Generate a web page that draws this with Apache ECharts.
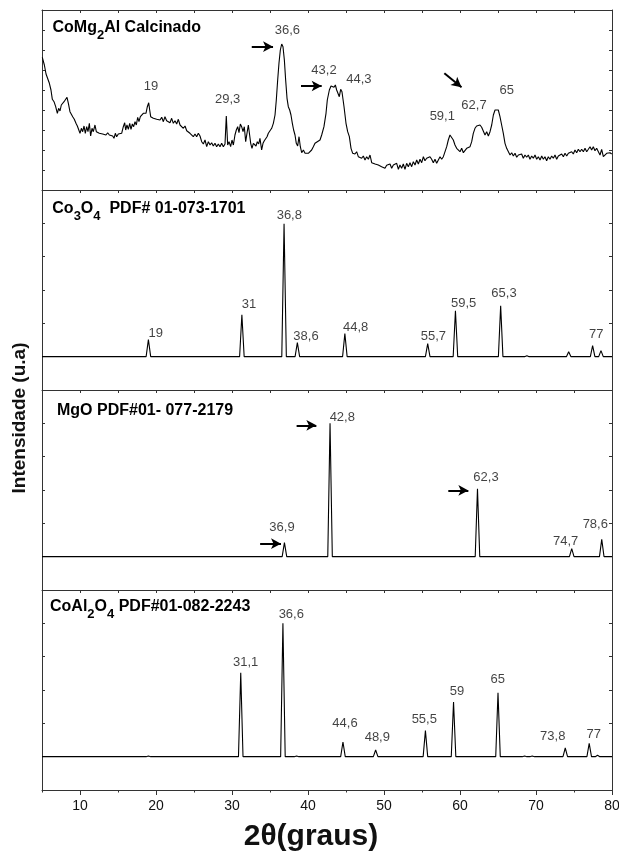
<!DOCTYPE html>
<html><head><meta charset="utf-8">
<script src="https://cdn.jsdelivr.net/npm/echarts@6/dist/echarts.min.js"></script>
<style>html,body{margin:0;padding:0;background:#fff}#c{width:619px;height:855px}</style>
</head><body><div id="c"></div><script>
// ---- Panel 1: CoMg2Al calcinado (2theta, intensity a.u.) ----
const calcinado = [
[5.04,132.7],[5.31,125],[5.53,116],[5.75,114],[5.97,106.7],[6.18,100],[6.36,90.7],[6.58,88.3],[6.8,83.3],[7.02,76.7],
[7.19,81.7],[7.37,79],[7.54,85],[7.72,83.3],[7.9,88.3],[8.11,90],[8.29,92.7],[8.47,86.7],[8.68,78.3],[8.86,80],
[9.04,73.3],[9.25,70.7],[9.47,66.7],[9.65,64],[9.82,66],[10.0,56.7],[10.18,61.7],[10.35,58.3],[10.53,64],[10.7,56.7],
[10.88,63.3],[11.05,58.3],[11.23,66.7],[11.4,54],[11.58,61.7],[11.75,58.3],[11.97,65],[12.15,58.3],[12.32,59.3],[12.54,56.7],
[12.76,58.3],[12.98,56],[13.2,57.3],[13.42,55],[13.64,57.3],[13.86,55],[14.08,56.7],[14.3,54],[14.47,51.7],[14.65,56.7],
[14.82,53.3],[15.04,56],[15.26,55],[15.48,56.7],[15.7,63.3],[15.88,67.3],[16.01,60],[16.18,65],[16.36,60.7],[16.54,66.7],
[16.71,60.7],[16.89,66],[17.06,63.3],[17.24,68.3],[17.41,65],[17.59,72.7],[17.76,68.3],[17.94,73.3],[18.11,75],[18.33,76.7],
[18.51,78.3],[18.68,76.7],[18.86,83.3],[19.04,87.3],[19.17,80],[19.3,73.3],[19.47,75],[19.65,71.7],[19.87,73.3],[20.09,70.7],
[20.31,72.7],[20.53,70],[20.75,72.7],[20.97,68.3],[21.18,73.3],[21.4,69.3],[21.62,70.7],[21.84,67.3],[22.06,71.7],[22.28,66.7],
[22.5,69.3],[22.72,66],[22.94,70.7],[23.16,65],[23.38,66.7],[23.6,61.7],[23.82,64],[24.04,59.3],[24.25,60.7],[24.47,56.7],
[24.69,58.3],[24.91,53.3],[25.13,56],[25.35,53.3],[25.57,56.7],[25.79,54],[26.01,48.3],[26.23,46],[26.45,50],[26.67,43.3],
[26.89,48.3],[27.11,45],[27.32,47.3],[27.54,44],[27.76,46.7],[27.98,43.3],[28.2,46],[28.42,43.3],[28.64,46.7],[28.86,43.3],
[29.08,46],[29.25,74],[29.43,45],[29.61,48.3],[29.82,43.3],[30.0,50],[30.18,45],[30.39,55],[30.57,60],[30.75,63.3],
[30.92,57.3],[31.1,66],[31.27,63.3],[31.45,58.3],[31.62,63.3],[31.8,48.3],[31.97,56.7],[32.15,65],[32.32,55],[32.46,46.7],
[32.63,41.7],[32.81,46.7],[32.98,48.3],[33.16,44],[33.33,48.3],[33.51,46],[33.68,51.7],[33.9,40],[34.08,46.7],[34.25,49.3],
[34.43,48.3],[34.61,53.3],[34.78,56.7],[35.0,57.3],[35.22,61.7],[35.44,66.7],[35.66,75],[35.83,90],[36.01,110],[36.18,126.7],
[36.36,140],[36.54,146],[36.71,143.3],[36.89,130],[37.06,110],[37.24,91.7],[37.41,83.3],[37.59,80],[37.76,75],[37.94,66.7],
[38.11,60],[38.29,55],[38.46,46.7],[38.64,44],[38.82,53.3],[38.99,43.3],[39.17,37.3],[39.39,40],[39.61,36.7],[39.82,38.3],
[40.04,36.7],[40.26,37.3],[40.48,40],[40.7,43.3],[40.92,46.7],[41.14,45],[41.58,50],[41.8,55],[42.1,63.3],[42.37,76.7],
[42.54,90],[42.81,100],[43.03,104],[43.25,106],[43.42,102.7],[43.6,105],[43.77,100],[43.95,101.7],[44.12,93.3],[44.3,100.7],
[44.47,98.3],[44.74,83.3],[45.0,66.7],[45.22,58.3],[45.44,53.3],[45.66,41.7],[45.88,36.7],[46.18,36],[46.4,38.3],[46.62,33.3],
[46.84,35],[47.06,31.7],[47.28,34],[47.5,30],[47.72,33.3],[47.94,30.7],[48.16,35],[48.38,27.3],[48.6,26.7],[48.83,26],
[49.04,26.7],[49.25,25],[49.47,26],[49.69,23.3],[49.91,25.3],[50.13,21.7],[50.35,24.7],[50.57,22.7],[50.79,26],[51.01,21.7],
[51.23,25],[51.45,23.3],[51.67,26.7],[51.89,20.7],[52.1,25],[52.32,21.7],[52.54,26],[52.76,20.7],[52.98,26.7],[53.2,23.3],
[53.42,27.3],[53.64,23.3],[53.86,28.3],[54.08,25],[54.3,30],[54.52,26],[54.74,30.7],[54.96,27.3],[55.18,33.3],[55.39,29.3],
[55.61,31.7],[55.83,30],[56.05,33.3],[56.27,30.7],[56.49,27.3],[56.71,30.7],[56.93,26.7],[57.15,30],[57.37,33.3],[57.59,30.7],
[57.81,33.3],[58.03,38.3],[58.25,43.3],[58.46,50],[58.68,55],[58.9,53.3],[59.12,50],[59.34,45],[59.56,41.7],[59.78,43.3],
[60.0,38.3],[60.22,41.7],[60.44,37.3],[60.66,39.3],[60.88,41.7],[61.1,40.7],[61.32,43.3],[61.54,48.3],[61.75,56.7],[61.97,61.7],
[62.19,64],[62.41,66],[62.63,65],[62.85,62.7],[63.07,61.7],[63.29,55],[63.51,58.3],[63.73,54],[63.95,58.3],[64.17,65],
[64.39,75],[64.61,80],[64.82,81.7],[65.04,80],[65.26,73.3],[65.48,65],[65.7,56.7],[65.92,46.7],[66.14,41.7],[66.36,40],
[66.58,35],[66.8,37.3],[67.02,34],[67.24,36.7],[67.46,32.7],[67.68,35],[67.89,33.3],[68.11,36],[68.33,31.7],[68.55,35],
[68.77,32.7],[68.99,35],[69.21,30.7],[69.43,34],[69.65,31.7],[69.87,35],[70.09,30.7],[70.31,33.3],[70.53,30],[70.75,34],
[70.97,30.7],[71.18,33.3],[71.4,29.3],[71.62,33.3],[71.84,30.7],[72.06,34],[72.28,31.7],[72.5,35],[72.72,30.7],[72.94,34],
[73.16,32.7],[73.38,36],[73.6,33.3],[73.82,36.7],[74.04,34],[74.26,36.7],[74.47,35],[74.69,38.3],[74.91,36],[75.13,40],
[75.35,37.3],[75.57,40.7],[75.79,38.3],[76.01,40.7],[76.23,38.3],[76.45,41.7],[76.67,38.3],[76.89,40.7],[77.11,43.3],[77.32,40],
[77.54,43.3],[77.76,39.3],[77.98,41.7],[78.2,43.3],[78.42,35],[78.64,40.7],[78.86,33.3],[79.08,31.7],[79.3,36.7],[79.52,35],
[79.74,37.3],[79.96,36]
];
const calcLabels = [[19.34,103.3,'19'],[29.43,91,'29,3'],[37.28,160,'36,6'],[42.1,120,'43,2'],[46.7,111,'44,3'],[57.67,73.3,'59,1'],[61.84,85,'62,7'],[66.14,99.3,'65']];
const calcArrows = [[[32.6,143.3],[35.4,143.3]],[[39.08,104],[41.8,104]],[[57.94,116.7],[60.2,102.7]]];

// ---- Panel 2: Co3O4 PDF# 01-073-1701 ----
const co3o4Pos = [19.0,31.3,36.85,38.6,44.85,55.75,59.4,65.35,68.8,74.3,77.45,78.55];
const co3o4Int = [12.75,31.5,99.75,10.5,17.25,9.75,34.5,38.25,0.75,3.75,8.25,4.5];
const co3o4Labels = [[19.96,17.25,'19'],[32.24,39.5,'31'],[37.54,106,'36,8'],[39.74,15.2,'38,6'],[46.27,22,'44,8'],[56.49,15.2,'55,7'],[60.48,39.75,'59,5'],[65.79,47.25,'65,3'],[77.94,16.5,'77']];

// ---- Panel 3: MgO PDF#01-077-2179 ----
const mgoPos = [36.9,42.9,62.3,74.7,78.65];
const mgoInt = [10.5,100,51,6,13];
const mgoLabels = [[36.58,22,'36,9'],[44.51,104.5,'42,8'],[63.42,59.8,'62,3'],[73.9,11.5,'74,7'],[77.8,24,'78,6']];
const mgoArrows = [[[33.7,9.75],[36.45,9.75]],[[38.5,98.5],[41.1,98.5]],[[58.46,49.7],[61.1,49.7]]];

// ---- Panel 4: CoAl2O4 PDF#01-082-2243 ----
const coal2o4Pos = [19.0,31.15,36.7,38.5,44.6,48.9,55.45,59.15,65.0,68.5,69.5,73.85,77.0,78.1];
const coal2o4Int = [0.5,63,100,0.5,11,5,19.5,41,48,0.5,0.5,6.5,10,1];
const coal2o4Labels = [[31.8,70.7,'31,1'],[37.8,107,'36,6'],[44.87,25,'44,6'],[49.12,14.5,'48,9'],[55.3,28,'55,5'],[59.6,49,'59'],[64.96,58.3,'65'],[72.2,15.2,'73,8'],[77.6,17,'77']];

const xTicks = [10,20,30,40,50,60,70,80];

const FONT = 'Liberation Sans, Arial, Helvetica, sans-serif';
function sticks(pos, ints){
  const d = [[5,0]];
  pos.forEach((p,i)=>{ d.push([p-0.3,0],[p,ints[i]],[p+0.3,0]); });
  d.push([80,0]);
  return d;
}
const AX = '#333';
const grids = [
  {left:42,right:7,top:10,height:180,outerBoundsMode:'none',containLabel:false},
  {left:42,right:7,top:190,height:200,outerBoundsMode:'none',containLabel:false},
  {left:42,right:7,top:390,height:200,outerBoundsMode:'none',containLabel:false},
  {left:42,right:7,top:590,height:200,outerBoundsMode:'none',containLabel:false}
];
const xAxes = [];
for (let i=0;i<4;i++){
  xAxes.push({gridIndex:i,type:'value',min:5,max:80,interval:5,position:'bottom',
    axisLine:{show:true,onZero:false,lineStyle:{color:AX,width:1}},
    axisTick:{show:true,inside:false,length:i<3?3:2.5,lineStyle:{color:AX}},
    axisLabel:{show:false},splitLine:{show:false}});
}
// major ticks + labels on bottom panel
xAxes.push({gridIndex:3,type:'value',min:5,max:80,position:'bottom',
  axisLine:{show:false,onZero:false},
  axisTick:{show:true,inside:false,length:5,customValues:xTicks,lineStyle:{color:AX}},
  axisLabel:{show:true,customValues:xTicks,margin:9,fontSize:14,color:'#111',fontFamily:FONT},
  splitLine:{show:false}});
// top of first panel
xAxes.push({gridIndex:0,type:'value',min:5,max:80,interval:5,position:'top',
  axisLine:{show:true,onZero:false,lineStyle:{color:AX,width:1}},
  axisTick:{show:true,inside:true,length:3,lineStyle:{color:AX}},
  axisLabel:{show:false},splitLine:{show:false}});

const yRanges = [[0,180,20],[-25,125,25],[-25,125,25],[-25,125,25]];
const yAxes = [];
for (let i=0;i<4;i++){
  ['left','right'].forEach(pos=>{
    yAxes.push({gridIndex:i,type:'value',min:yRanges[i][0],max:yRanges[i][1],interval:yRanges[i][2],position:pos,
      axisLine:{show:true,onZero:false,lineStyle:{color:AX,width:1}},
      axisTick:{show:true,inside:true,length:3,lineStyle:{color:AX}},
      axisLabel:{show:false},splitLine:{show:false}});
  });
}

function lineSeries(xi, yi, data, arrows){
  const s = {type:'line',xAxisIndex:xi,yAxisIndex:yi,data:data,showSymbol:false,symbol:'none',
    lineStyle:{color:'#000',width:1.1},animation:false,silent:true};
  if (arrows){
    s.markLine = {silent:true,animation:false,symbol:['none','arrow'],symbolSize:[8,10],
      label:{show:false},lineStyle:{color:'#000',width:2,type:'solid'},
      emphasis:{disabled:true},
      data: arrows.map(a=>[{coord:a[0]},{coord:a[1]}])};
  }
  return s;
}
function labelSeries(xi, yi, labels){
  return {type:'scatter',xAxisIndex:xi,yAxisIndex:yi,data:labels,symbolSize:0,animation:false,silent:true,
    label:{show:true,position:'inside',formatter:p=>p.data[2],fontSize:13,color:'#111',fontFamily:FONT}};
}

const series = [
  lineSeries(0,0,calcinado,calcArrows), labelSeries(0,0,calcLabels),
  lineSeries(1,2,sticks(co3o4Pos,co3o4Int)), labelSeries(1,2,co3o4Labels),
  lineSeries(2,4,sticks(mgoPos,mgoInt),mgoArrows), labelSeries(2,4,mgoLabels),
  lineSeries(3,6,sticks(coal2o4Pos,coal2o4Int)), labelSeries(3,6,coal2o4Labels)
];

const rich = {
  n:{fontSize:16,fontWeight:'bold',fontFamily:FONT,color:'#111',verticalAlign:'top'},
  s:{fontSize:13,fontWeight:'bold',fontFamily:FONT,color:'#111',verticalAlign:'top',padding:[9,0,0,0]}
};
function ptitle(x,y,txt){
  return {type:'text',x:x,y:y,silent:true,style:{text:txt,rich:rich,align:'left',verticalAlign:'top'}};
}
const graphic = [
  ptitle(52.5,19.5,'{n|CoMg}{s|2}{n|Al Calcinado}'),
  ptitle(52.3,201,'{n|Co}{s|3}{n|O}{s|4}{n|  PDF# 01-073-1701}'),
  ptitle(57,403,'{n|MgO PDF#01- 077-2179}'),
  ptitle(50,599,'{n|CoAl}{s|2}{n|O}{s|4}{n| PDF#01-082-2243}'),
  {type:'text',x:20,y:418,rotation:Math.PI/2,silent:true,
    style:{text:'Intensidade (u.a)',font:'bold 19px '+FONT,fill:'#111',align:'center',verticalAlign:'middle'}},
  {type:'text',x:311,y:837,silent:true,
    style:{text:'2θ(graus)',font:'bold 30px '+FONT,fill:'#111',align:'center',verticalAlign:'middle'}}
];

const chart = echarts.init(document.getElementById('c'),null,{renderer:'canvas'});
chart.setOption({animation:false,backgroundColor:'#fff',grid:grids,xAxis:xAxes,yAxis:yAxes,series:series,graphic:graphic});
</script></body></html>
